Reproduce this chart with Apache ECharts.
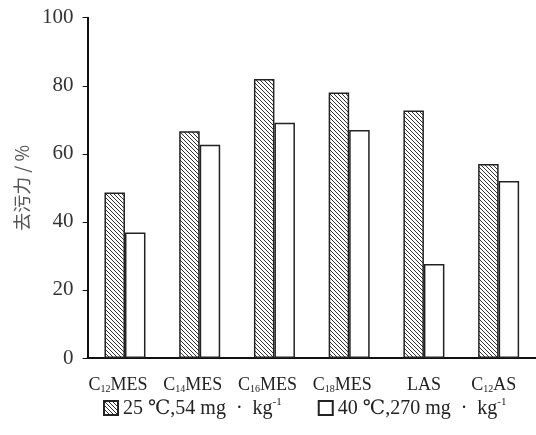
<!DOCTYPE html>
<html>
<head>
<meta charset="utf-8">
<script src="https://cdn.jsdelivr.net/npm/echarts@6/dist/echarts.min.js"></script>
<style>html,body{margin:0;padding:0;background:#fff;}#c{width:536px;height:435px;}</style>
</head>
<body>
<div id="c"></div>
<script>
var categories = ['C12MES', 'C14MES', 'C16MES', 'C18MES', 'LAS', 'C12AS'];
var seriesNames = ['25 ℃,54 mg  ·  kg-1', '40 ℃,270 mg  ·  kg-1'];
var values25 = [48.6, 66.6, 82.0, 78.0, 72.7, 57.0];
var values40 = [36.9, 62.7, 69.1, 67.0, 27.6, 52.0];
var yTicks = [0, 20, 40, 60, 80, 100];

function hatch() {
  var s = 4;
  var c = document.createElement('canvas');
  c.width = s; c.height = s;
  var g = c.getContext('2d');
  g.fillStyle = '#fff';
  g.fillRect(0, 0, s, s);
  g.strokeStyle = '#333';
  g.lineWidth = 1;
  g.beginPath();
  g.moveTo(-1, -1); g.lineTo(s + 1, s + 1);
  g.moveTo(-1, s - 1); g.lineTo(1, s + 1);
  g.moveTo(s - 1, -1); g.lineTo(s + 1, 1);
  g.stroke();
  return c;
}

var chart = echarts.init(document.getElementById('c'), null, {renderer: 'canvas'});
var serif = '"Liberation Serif", "DejaVu Serif", "Times New Roman", serif';

function catFmt(v) {
  var m = v.match(/^([A-Z])(\d+)(.*)$/);
  if (m) {
    var sp = m[3] === 'MES' ? '{g|}' : '{h|}';
    return '{b|' + m[1] + '}{s|' + m[2] + '}{b|' + m[3] + '}' + sp;
  }
  return '{b|' + v + '}';
}
function legFmt(n) {
  var m = n.match(/^(.*kg)(-1)$/);
  return '{t|' + m[1] + '}{p|' + m[2] + '}';
}

chart.setOption({
  animation: false,
  grid: {left: 87.6, right: -5.8, top: 17.7, bottom: 77, containLabel: false},
  legend: {
    bottom: 11,
    left: 98,
    itemWidth: 14,
    itemHeight: 14,
    itemGap: 36,
    icon: 'rect',
    formatter: legFmt,
    textStyle: {
      color: '#222',
      rich: {
        t: {fontFamily: serif, fontSize: 20, color: '#222', lineHeight: 22, verticalAlign: 'bottom'},
        p: {fontFamily: serif, fontSize: 11, color: '#222', lineHeight: 12, verticalAlign: 'top'}
      }
    },
    data: seriesNames
  },
  xAxis: {
    type: 'category',
    data: categories,
    axisLine: {lineStyle: {color: '#111', width: 2}},
    axisTick: {inside: true, length: 4, lineStyle: {color: '#111', width: 1}},
    axisLabel: {
      margin: 14,
      interval: 0,
      formatter: catFmt,
      rich: {
        b: {fontFamily: serif, fontSize: 18, color: '#222', lineHeight: 22, verticalAlign: 'bottom'},
        s: {fontFamily: serif, fontSize: 10, color: '#222', lineHeight: 9, verticalAlign: 'bottom'},
        g: {width: 14, lineHeight: 22},
        h: {width: 10, lineHeight: 22}
      }
    }
  },
  yAxis: {
    type: 'value',
    min: 0,
    max: 100,
    interval: 20,
    name: '去污力 / %',
    nameLocation: 'middle',
    nameGap: 56,
    nameTextStyle: {fontFamily: '"Noto Sans CJK SC", ' + serif, fontSize: 18, color: '#555'},
    axisLine: {show: true, lineStyle: {color: '#111', width: 2}},
    axisTick: {show: true, length: 5, lineStyle: {color: '#111', width: 1}},
    splitLine: {show: false},
    axisLabel: {
      margin: 14,
      fontFamily: serif,
      fontSize: 21,
      color: '#333',
      formatter: function (v) { return yTicks.indexOf(v) >= 0 ? String(v) : ''; }
    }
  },
  series: [
    {
      name: seriesNames[0],
      type: 'bar',
      data: values25,
      barWidth: 20.5,
      barGap: '0%',
      itemStyle: {color: {image: hatch(), repeat: 'repeat'}, borderColor: '#222', borderWidth: 1.5}
    },
    {
      name: seriesNames[1],
      type: 'bar',
      data: values40,
      barWidth: 20.5,
      barGap: '0%',
      itemStyle: {color: '#fff', borderColor: '#222', borderWidth: 1.5}
    }
  ]
});
</script>
</body>
</html>
